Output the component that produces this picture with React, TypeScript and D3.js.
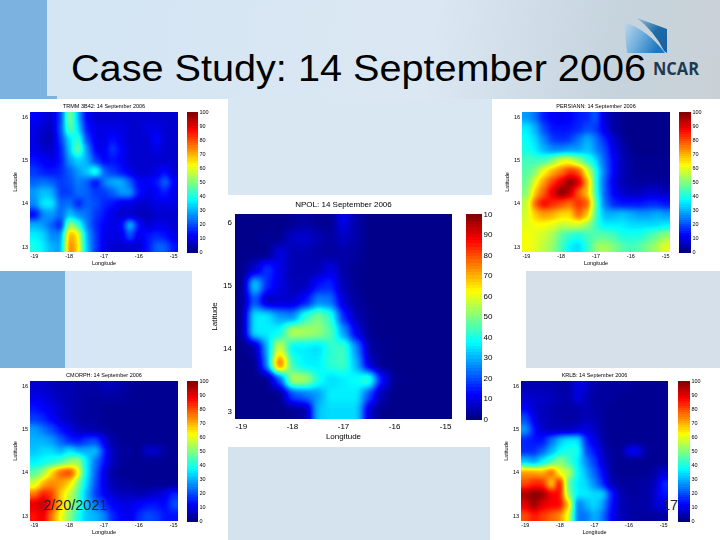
import React from "react";
import * as d3 from "d3";

const lons = [-19, -18.75, -18.5, -18.25, -18, -17.75, -17.5, -17.25, -17, -16.75, -16.5, -16.25, -16, -15.75, -15.5, -15.25, -15];
const lats = [16, 15.75, 15.5, 15.25, 15, 14.75, 14.5, 14.25, 14, 13.75, 13.5, 13.25, 13];
const cbTicks = [0, 10, 20, 30, 40, 50, 60, 70, 80, 90, 100];
const lonTicks = [-19, -18, -17, -16, -15];
const latTicks = [16, 15, 14, 13];

const trmm = [
  [12,10,8,18,52,30,12,8,8,8,8,8,8,8,8,8,8],
  [10,8,6,20,48,35,15,10,10,10,10,8,8,10,10,8,8],
  [10,6,5,18,35,44,20,10,10,14,10,8,8,8,14,8,8],
  [10,8,7,15,32,50,28,12,10,18,12,8,8,8,10,8,8],
  [14,12,10,14,28,34,30,18,12,14,12,8,8,8,8,8,8],
  [18,15,14,16,22,28,32,42,22,18,14,10,8,8,10,14,8],
  [22,24,22,18,20,25,22,12,25,30,30,22,12,12,14,24,12],
  [28,32,30,18,18,24,22,18,18,22,28,28,14,10,12,16,10],
  [26,36,36,22,24,15,22,20,16,14,10,10,8,8,10,10,10],
  [12,26,28,22,32,26,24,18,14,10,7,8,6,6,8,8,8],
  [30,28,22,14,55,44,26,16,12,10,12,34,14,8,10,10,8],
  [36,34,26,26,72,64,30,18,10,10,10,22,10,14,16,14,10],
  [40,36,30,28,76,66,32,18,10,8,8,8,8,14,22,22,14],
];
const persiann = [
  [28,24,15,12,10,12,15,16,22,8,4,2,1,1,1,1,1],
  [36,30,20,14,14,14,16,20,18,10,4,2,1,1,1,1,1],
  [38,34,26,18,16,18,24,30,24,16,8,3,1,1,1,1,1],
  [40,36,30,26,26,28,28,32,26,20,10,5,2,1,1,1,1],
  [44,44,44,50,60,60,52,42,34,22,12,6,3,2,2,2,2],
  [46,50,62,70,76,84,80,60,40,24,12,6,3,2,2,2,2],
  [48,60,72,82,90,100,92,70,40,22,10,5,4,3,3,3,3],
  [50,68,78,90,100,94,78,68,42,22,12,8,6,6,8,8,6],
  [56,78,88,84,80,76,84,78,46,24,16,14,14,14,16,16,14],
  [58,68,72,70,66,66,78,68,44,30,30,32,30,28,28,30,28],
  [60,62,62,60,56,58,58,52,42,36,36,36,34,34,34,34,36],
  [62,60,58,54,46,42,40,44,46,46,44,40,40,40,44,48,52],
  [62,60,56,52,44,36,34,42,52,54,50,46,44,46,50,54,60],
];
const npol = [
  [1,1,1,1,2,4,2,2,11,4,1,1,1,1,1,1,1],
  [1,1,2,2,7,8,5,3,7,4,1,1,1,1,1,1,1],
  [1,1,1,10,5,5,4,3,4,3,1,1,1,1,1,1,1],
  [1,8,18,10,5,5,5,10,4,2,1,1,1,1,1,1,1],
  [1,34,16,10,5,6,14,16,5,2,1,1,1,1,1,1,1],
  [2,22,6,8,8,14,26,24,8,3,1,1,1,1,1,1,1],
  [2,36,36,28,26,42,50,42,16,5,2,1,1,1,1,1,1],
  [2,36,36,38,56,54,52,46,28,10,2,1,1,1,1,1,1],
  [1,4,30,60,36,36,34,42,44,26,4,2,1,1,1,1,1],
  [1,1,26,80,42,36,36,42,44,30,8,2,1,1,1,1,1],
  [1,1,1,20,56,54,40,34,36,38,44,14,2,1,1,1,1],
  [1,1,1,1,20,24,28,36,36,36,20,5,1,1,1,1,1],
  [1,1,1,1,2,4,32,34,34,34,8,1,1,1,1,1,1],
];
const cmorph = [
  [8,8,6,5,5,4,4,4,6,6,4,3,2,2,2,2,2],
  [10,10,8,6,5,4,3,3,3,3,3,2,2,2,2,2,2],
  [14,12,10,8,5,4,3,3,2,2,2,2,2,2,2,2,2],
  [18,16,12,8,6,4,3,3,2,2,2,2,2,2,2,2,2],
  [28,24,20,14,10,6,5,4,3,2,2,2,2,2,2,2,2],
  [30,30,28,22,16,14,18,20,10,4,2,2,2,2,2,2,2],
  [32,34,34,30,36,30,30,32,16,6,3,3,2,8,8,3,2],
  [36,38,40,44,50,54,36,24,14,6,3,2,2,2,2,2,2],
  [46,52,66,78,82,64,36,22,10,4,2,2,2,2,2,2,2],
  [58,70,74,72,66,50,34,20,10,5,3,3,2,2,2,2,2],
  [76,86,82,68,56,46,30,18,12,8,6,6,5,6,8,10,16],
  [90,94,84,68,56,44,32,24,18,12,10,10,12,14,14,12,20],
  [86,90,76,62,50,40,32,30,26,16,12,10,16,20,18,14,14],
];
const krlb = [
  [5,5,5,5,4,4,10,8,4,3,3,3,3,2,2,2,2],
  [8,8,7,6,5,4,10,6,3,3,3,2,2,2,2,2,2],
  [12,8,6,5,4,4,4,6,4,3,2,2,2,2,2,2,2],
  [20,10,6,5,4,4,4,6,5,3,2,2,2,2,2,2,2],
  [28,14,8,6,6,6,8,10,7,3,2,2,2,2,2,2,2],
  [16,14,14,24,32,36,36,16,10,4,2,2,2,2,2,2,2],
  [16,16,22,30,38,40,40,20,14,6,3,2,12,12,3,2,2],
  [32,28,36,44,52,44,36,26,18,8,3,2,2,2,2,2,2],
  [72,72,70,78,60,56,38,30,22,12,4,2,2,2,2,4,8],
  [80,84,84,66,90,46,36,34,26,16,6,3,3,3,4,6,16],
  [96,100,98,88,88,50,36,36,34,34,16,5,3,3,4,8,14],
  [90,98,90,88,88,68,24,30,34,28,14,6,4,4,4,8,10],
  [80,86,82,78,74,60,24,24,30,24,12,6,4,3,3,3,3],
];

const jetR = (t: number) => (t < 0.375 ? 0 : t < 0.625 ? (t - 0.375) / 0.25 : t < 0.875 ? 1 : 1 - 0.5 * (t - 0.875) / 0.125);
const jetG = (t: number) => (t < 0.125 ? 0 : t < 0.375 ? (t - 0.125) / 0.25 : t < 0.625 ? 1 : t < 0.875 ? 1 - (t - 0.625) / 0.25 : 0);
const jetB = (t: number) => (t < 0.125 ? 0.5 + 0.5 * t / 0.125 : t < 0.375 ? 1 : t < 0.625 ? 1 - (t - 0.375) / 0.25 : 0);

const steps = d3.range(0, 65).map((i) => i / 64);
const tableR = steps.map((t) => jetR(t).toFixed(3)).join(" ");
const tableG = steps.map((t) => jetG(t).toFixed(3)).join(" ");
const tableB = steps.map((t) => jetB(t).toFixed(3)).join(" ");
const jetCss = (v: number) => {
  const t = v / 100;
  return `rgb(${Math.round(jetR(t) * 255)},${Math.round(jetG(t) * 255)},${Math.round(jetB(t) * 255)})`;
};
const FONT = "'Liberation Sans', Arial, sans-serif";

type PanelProps = {
  id: string; title: string; data: number[][];
  x0: number; x1: number; y0: number; y1: number;
  cb0: number; cb1: number; fs: number; sigma: number;
  latLabels?: string[]; topCb?: string; latLabelX: number; latX: number; lonLabelY: number; lonTitleY: number; titleY: number;
};

function Panel(p: PanelProps) {
  const xs = d3.scaleLinear().domain([-19.125, -14.875]).range([p.x0, p.x1]);
  const ys = d3.scaleLinear().domain([16.125, 12.875]).range([p.y0, p.y1]);
  const cb = d3.scaleLinear().domain([0, 100]).range([p.y1, p.y0]);
  const gray = (v: number) => { const g = Math.round((v / 100) * 255); return `rgb(${g},${g},${g})`; };
  const cellW = (p.x1 - p.x0) / lons.length;
  const cellH = (p.y1 - p.y0) / lats.length;
  const pad = 25;
  const cbVals = d3.range(0, 100, 100 / 64);
  return (
    <g fontFamily={FONT} fill="#000">
      <defs>
        <clipPath id={`clip-${p.id}`}><rect x={p.x0} y={p.y0} width={p.x1 - p.x0} height={p.y1 - p.y0} /></clipPath>
        <filter id={`heat-${p.id}`} x="-15%" y="-15%" width="130%" height="130%" colorInterpolationFilters="sRGB">
          <feGaussianBlur stdDeviation={p.sigma} />
          <feComponentTransfer>
            <feFuncR type="table" tableValues={tableR} />
            <feFuncG type="table" tableValues={tableG} />
            <feFuncB type="table" tableValues={tableB} />
          </feComponentTransfer>
        </filter>
      </defs>
      <g clipPath={`url(#clip-${p.id})`}>
        <g filter={`url(#heat-${p.id})`} shapeRendering="crispEdges">
          {p.data.map((row, r) =>
            row.map((v, c) => {
              const left = xs(lons[c]) - cellW / 2 - (c === 0 ? pad : 0);
              const right = xs(lons[c]) + cellW / 2 + (c === lons.length - 1 ? pad : 0);
              const top = ys(lats[r]) - cellH / 2 - (r === 0 ? pad : 0);
              const bottom = ys(lats[r]) + cellH / 2 + (r === lats.length - 1 ? pad : 0);
              return <rect key={`${r}-${c}`} x={left} y={top} width={right - left + 0.5} height={bottom - top + 0.5} fill={gray(v)} />;
            })
          )}
        </g>
      </g>
      {cbVals.map((v) => (
        <rect key={v} x={p.cb0} y={cb(v + 100 / 64)} width={p.cb1 - p.cb0} height={cb(v) - cb(v + 100 / 64) + 0.5} fill={jetCss(v + 50 / 64)} shapeRendering="crispEdges" />
      ))}
      <g filter="url(#soft)">
        <text x={(p.x0 + p.x1) / 2} y={p.titleY} fontSize={p.fs} textAnchor="middle">{p.title}</text>
        {lonTicks.map((t) => (
          <text key={t} x={xs(t)} y={p.lonLabelY} fontSize={p.fs} textAnchor="middle">{t}</text>
        ))}
        {latTicks.map((t, i) => (
          <text key={t} x={p.latX} y={ys(t) + p.fs * 0.35} fontSize={p.fs} textAnchor="end">{p.latLabels ? p.latLabels[i] : t}</text>
        ))}
        {cbTicks.map((t) => (
          <text key={t} x={p.cb1 + 1.5} y={cb(t) + p.fs * 0.35} fontSize={p.fs}>{t === 100 && p.topCb ? p.topCb : t}</text>
        ))}
        <text x={(p.x0 + p.x1) / 2} y={p.lonTitleY} fontSize={p.fs} textAnchor="middle">Longitude</text>
        <text transform={`translate(${p.latLabelX},${(p.y0 + p.y1) / 2}) rotate(-90)`} fontSize={p.fs} textAnchor="middle">Latitude</text>
      </g>
    </g>
  );
}

export default function App() {
  return (
    <svg width={720} height={540} viewBox="0 0 720 540" style={{ position: "absolute", left: 0, top: 0 }}>
      <defs>
        <linearGradient id="bg" x1="0" y1="0" x2="1" y2="0.1">
          <stop offset="0" stopColor="#d2e4f3" />
          <stop offset="0.6" stopColor="#dbe8f3" />
          <stop offset="0.85" stopColor="#c6d4de" />
          <stop offset="1" stopColor="#c9d1d6" />
        </linearGradient>
        <linearGradient id="logoBlue" x1="0" y1="0" x2="1" y2="0.4">
          <stop offset="0" stopColor="#c4d8e6" />
          <stop offset="0.5" stopColor="#6fb0de" />
          <stop offset="1" stopColor="#1f77c0" />
        </linearGradient>
        <linearGradient id="logoDark" x1="0" y1="0" x2="1" y2="1">
          <stop offset="0" stopColor="#9dc0d8" />
          <stop offset="0.5" stopColor="#1f6ca8" />
          <stop offset="1" stopColor="#1a5f9c" />
        </linearGradient>
        <filter id="soft" x="-5%" y="-5%" width="110%" height="110%"><feGaussianBlur stdDeviation="0.3" /></filter>
      </defs>
      <rect x={0} y={0} width={720} height={540} fill="url(#bg)" />
      <rect x={0} y={0} width={47} height={99} fill="#7cb2df" />
      <rect x={47} y={96} width={10} height={3} fill="#7cb2df" />
      <rect x={0} y={271} width={65} height={97} fill="#78b1dc" />
      <rect x={65} y={271} width={127} height={97} fill="#d6e6f4" />
      <rect x={526} y={271} width={194} height={97} fill="#d5e0ea" />
      <rect x={228} y={447} width={262} height={93} fill="#d5e3ef" />
      <rect x={228} y={99} width={264} height={96} fill="#d9e7f3" />

      <rect x={0} y={99} width={228} height={172} fill="#fff" />
      <rect x={492} y={99} width={228} height={172} fill="#fff" />
      <rect x={192} y={195} width={334} height={252} fill="#fff" />
      <rect x={0} y={368} width={228} height={172} fill="#fff" />
      <rect x={490} y={368} width={230} height={172} fill="#fff" />

      <path d="M624,22 Q648,30 665,53 L627,53 Z" fill="url(#logoBlue)" />
      <path d="M637,18 L667,29 L667,53 L664,51 Q655,32 637,18 Z" fill="url(#logoDark)" />
      <text x={653} y={75} fontFamily="'Open Sans', sans-serif" fontWeight="bold" fontSize={18} fill="#1e3a52" textLength={46} lengthAdjust="spacingAndGlyphs">NCAR</text>

      <Panel id="trmm" title="TRMM 3B42: 14 September 2006" data={trmm} x0={30} x1={178} y0={112} y1={252} cb0={187} cb1={198} fs={5.5} sigma={3} latLabelX={17} latX={28} lonLabelY={258} lonTitleY={265} titleY={108} />
      <Panel id="persiann" title="PERSIANN: 14 September 2006" data={persiann} x0={522} x1={670} y0={112} y1={252} cb0={679} cb1={691} fs={5.5} sigma={3} latLabelX={509} latX={520} lonLabelY={258} lonTitleY={265} titleY={108} />
      <Panel id="npol" title="NPOL: 14 September 2006" data={npol} x0={235} x1={452} y0={214} y1={419} cb0={466} cb1={482} fs={8} sigma={4} latLabels={["6", "15", "14", "3"]} topCb="10" latLabelX={217} latX={232} lonLabelY={429} lonTitleY={439} titleY={207} />
      <Panel id="cmorph" title="CMORPH: 14 September 2006" data={cmorph} x0={30} x1={178} y0={381} y1={521} cb0={187} cb1={198} fs={5.5} sigma={3} latLabelX={17} latX={28} lonLabelY={527} lonTitleY={534} titleY={377} />
      <Panel id="krlb" title="KRLB: 14 September 2006" data={krlb} x0={521} x1={668} y0={381} y1={521} cb0={678} cb1={690} fs={5.5} sigma={3} latLabelX={508} latX={519} lonLabelY={527} lonTitleY={534} titleY={377} />

      <text x={71} y={81} fontFamily={FONT} fontSize={37} fill="#000" textLength={575} lengthAdjust="spacingAndGlyphs">Case Study: 14 September 2006</text>
      <text x={43} y={510} fontFamily={FONT} fontSize={14.5} fill="#1c2430">2/20/2021</text>
      <text x={662} y={510} fontFamily={FONT} fontSize={14.5} fill="#1c2430">17</text>
    </svg>
  );
}
